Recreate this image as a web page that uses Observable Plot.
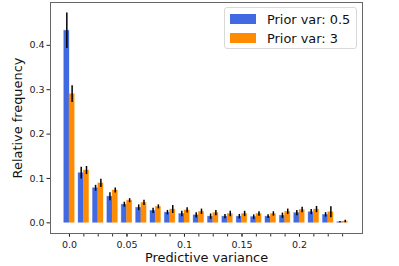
<!DOCTYPE html>
<html>
<head>
<meta charset="utf-8">
<script src="https://cdn.jsdelivr.net/npm/d3@7"></script>
<script src="https://cdn.jsdelivr.net/npm/@observablehq/plot@0.6"></script>
<style>
  body { margin: 0; background: #fff; }
  #wrap { position: relative; width: 399px; height: 266px; font-family: "DejaVu Sans", sans-serif; }
  #legend { position: absolute; left: 224px; top: 7px; width: 131px; height: 40px; border: 1px solid #d9d9d9; border-radius: 3px; background: rgba(255,255,255,0.8); font-size: 12.9px; color: #111; }
  .row { position: absolute; left: 5px; height: 14px; display: flex; align-items: center; }
  .sw { width: 26px; height: 10px; margin-right: 11px; }
</style>
</head>
<body>
<div id="wrap"></div>
<script>
const binCenters = [0, 0.0125, 0.025, 0.0375, 0.05, 0.0625, 0.075, 0.0875, 0.1, 0.1125, 0.125, 0.1375, 0.15, 0.1625, 0.175, 0.1875, 0.2, 0.2125, 0.225, 0.2375];
const seriesNames = ["Prior var: 0.5", "Prior var: 3"];
const seriesColors = ["#4169E1", "#FF8C00"];
const freqA = [0.433, 0.112, 0.078, 0.059, 0.041, 0.034, 0.027, 0.023, 0.020, 0.017, 0.014, 0.014, 0.014, 0.013, 0.014, 0.016, 0.022, 0.024, 0.018, 0.0015];
const freqB = [0.290, 0.118, 0.089, 0.073, 0.050, 0.045, 0.036, 0.030, 0.028, 0.025, 0.022, 0.020, 0.020, 0.020, 0.020, 0.025, 0.029, 0.030, 0.024, 0.003];
const errA = [0.040, 0.013, 0.0065, 0.009, 0.0055, 0.0065, 0.006, 0.005, 0.006, 0.006, 0.006, 0.005, 0.005, 0.005, 0.004, 0.006, 0.006, 0.006, 0.005, 0.0015];
const errB = [0.019, 0.009, 0.0095, 0.0055, 0.0045, 0.006, 0.0045, 0.009, 0.006, 0.006, 0.006, 0.006, 0.006, 0.005, 0.005, 0.006, 0.006, 0.007, 0.0125, 0.003];
const xTickValues = [0, 0.05, 0.1, 0.15, 0.2];
const xTickLabels = ["0.0", "0.05", "0.1", "0.15", "0.2"];
const yTickValues = [0, 0.1, 0.2, 0.3, 0.4];

const barW = 0.0046;
const data = [];
binCenters.forEach((c, i) => {
  data.push({c, s: 0, v: freqA[i], e: errA[i]});
  data.push({c, s: 1, v: freqB[i], e: errB[i]});
});
const left = d => d.s === 0 ? d.c - barW : d.c;
const right = d => d.s === 0 ? d.c : d.c + barW;
const mid = d => d.s === 0 ? d.c - barW / 2 : d.c + barW / 2;

const chart = Plot.plot({
  width: 399,
  height: 266,
  marginLeft: 50,
  marginRight: 37,
  marginTop: 2,
  marginBottom: 33,
  style: {fontFamily: "DejaVu Sans, sans-serif", fontSize: "9.5px", color: "#222", background: "white"},
  x: {domain: [-0.0165, 0.2548]},
  y: {domain: [-0.024, 0.4965]},
  marks: [
    Plot.rectY(data, {x1: left, x2: right, y1: 0, y2: "v", fill: d => seriesColors[d.s], stroke: d => seriesColors[d.s], strokeOpacity: 0.35, strokeWidth: 0.8}),
    Plot.ruleX(data, {x: mid, y1: d => d.v - d.e, y2: d => d.v + d.e, stroke: "black", strokeWidth: 1.5}),
    Plot.axisX({ticks: binCenters, tickSize: 3.5, tickFormat: () => "", stroke: "#333"}),
    Plot.axisX({ticks: xTickValues, tickSize: 3.5, tickPadding: 4, tickFormat: (d) => xTickLabels[xTickValues.indexOf(d)], label: null, fill: "#222"}),
    Plot.axisY({ticks: yTickValues, tickSize: 3.5, tickPadding: 2.5, tickFormat: d3.format(".1f"), label: null, fill: "#222"}),
    Plot.frame({stroke: "#666", strokeWidth: 1}),
    Plot.text(["Relative frequency"], {frameAnchor: "left", dx: -33, rotate: -90, text: d => d, fontSize: 12.9, fill: "#111", textAnchor: "middle"}),
    Plot.text(["Predictive variance"], {frameAnchor: "bottom", dy: 24, text: d => d, fontSize: 12.9, fill: "#111", lineAnchor: "middle"})
  ]
});
const wrap = document.getElementById("wrap");
wrap.appendChild(chart);
const legend = document.createElement("div");
legend.id = "legend";
seriesNames.forEach((n, i) => {
  const r = document.createElement("div");
  r.className = "row";
  r.style.top = (i === 0 ? 4 : 23) + "px";
  const sw = document.createElement("div");
  sw.className = "sw";
  sw.style.background = seriesColors[i];
  r.appendChild(sw);
  const t = document.createElement("span");
  t.textContent = n;
  r.appendChild(t);
  legend.appendChild(r);
});
wrap.appendChild(legend);
</script>
</body>
</html>
